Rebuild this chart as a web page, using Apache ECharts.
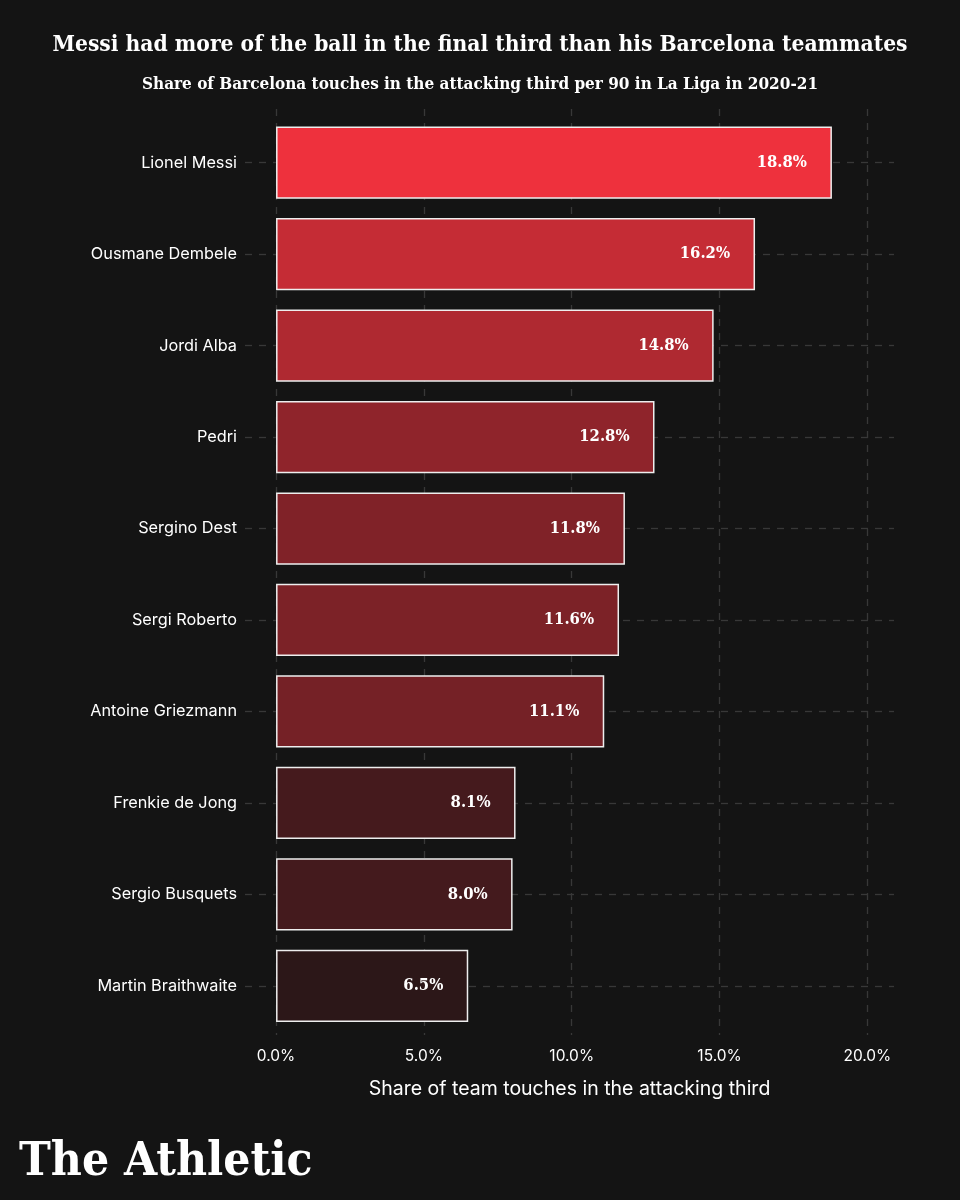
<!DOCTYPE html>
<html>
<head>
<meta charset="utf-8">
<script src="https://cdn.jsdelivr.net/npm/echarts@6/dist/echarts.min.js"></script>
<style>
  html, body { margin: 0; padding: 0; background: #141414; }
  #chart { width: 960px; height: 1200px; }
</style>
</head>
<body>
<div id="chart"></div>
<script>
// ---- data ----
const players = [
  'Lionel Messi', 'Ousmane Dembele', 'Jordi Alba', 'Pedri', 'Sergino Dest',
  'Sergi Roberto', 'Antoine Griezmann', 'Frenkie de Jong', 'Sergio Busquets', 'Martin Braithwaite'
];
const shares = [18.8, 16.2, 14.8, 12.8, 11.8, 11.6, 11.1, 8.1, 8.0, 6.5];
const xTicks = [0, 5, 10, 15, 20];

const titleText = 'Messi had more of the ball in the final third than his Barcelona teammates';
const subtitleText = 'Share of Barcelona touches in the attacking third per 90 in La Liga in 2020-21';
const xAxisName = 'Share of team touches in the attacking third';

// colour scale: dark -> bright red by value
const lowColor = [44, 23, 24];
const highColor = [238, 49, 61];
const vMin = Math.min(...shares), vMax = Math.max(...shares);
function colorFor(v) {
  const t = (v - vMin) / (vMax - vMin);
  const c = lowColor.map((lo, i) => Math.round(lo + t * (highColor[i] - lo)));
  return 'rgb(' + c.join(',') + ')';
}

const sansFont = 'Inter';
const slabFont = '"DejaVu Serif Condensed", "DejaVu Serif"';
const gridLineColor = '#383838';

const chart = echarts.init(document.getElementById('chart'), null, { renderer: 'canvas' });

const option = {
  backgroundColor: '#141414',
  animation: false,
  title: [
    {
      text: titleText,
      left: 'center', top: 29,
      textStyle: { color: '#ffffff', fontFamily: slabFont, fontWeight: 'bold', fontSize: 22.6 }
    },
    {
      text: subtitleText,
      left: 'center', top: 71,
      textStyle: { color: '#ffffff', fontFamily: slabFont, fontWeight: 'bold', fontSize: 17 }
    }
  ],
  grid: [
    { left: 245, right: 66, top: 117, bottom: 168.5 },
    { left: 245, right: 66, top: 109, bottom: 165 }
  ],
  xAxis: [
    { gridIndex: 0, type: 'value', min: -1.05, max: 20.9, show: false },
    {
      gridIndex: 1, type: 'value', min: -1.05, max: 20.9,
      axisLine: { show: false },
      axisTick: { show: false, customValues: xTicks },
      axisLabel: {
        customValues: xTicks,
        formatter: v => v.toFixed(1) + '%',
        color: '#ffffff', fontFamily: sansFont, fontSize: 15.5, margin: 13
      },
      splitLine: { show: true, lineStyle: { color: gridLineColor, type: [7, 7], width: 1.3 } },
      name: xAxisName,
      nameLocation: 'middle',
      nameGap: 44,
      nameTextStyle: { color: '#ffffff', fontFamily: sansFont, fontSize: 19.5 }
    }
  ],
  yAxis: [
    {
      gridIndex: 0, type: 'category', data: players, inverse: true,
      axisLine: { show: false, onZero: false },
      axisTick: {
        show: true, inside: true, alignWithLabel: true, length: 649,
        lineStyle: { color: gridLineColor, type: [7, 7], width: 1.3 }
      },
      axisLabel: { color: '#ffffff', fontFamily: sansFont, fontSize: 16.3, margin: 8 },
      splitLine: { show: false }
    },
    { gridIndex: 1, type: 'value', show: false, min: 0, max: 1 }
  ],
  series: [
    {
      type: 'bar',
      xAxisIndex: 0, yAxisIndex: 0,
      barWidth: '79%',
      data: shares.map(v => ({ value: v, itemStyle: { color: colorFor(v) } })),
      itemStyle: { borderColor: '#eeeeee', borderWidth: 1.5 },
      label: {
        show: true, position: 'insideRight', distance: 25,
        formatter: p => p.value.toFixed(1) + '%',
        color: '#ffffff', fontFamily: slabFont, fontWeight: 'bold', fontSize: 16.5
      },
      z: 3
    }
  ],
  graphic: [
    {
      type: 'text', left: 19, top: 1139,
      style: {
        text: 'The Athletic',
        fill: '#ffffff',
        font: 'bold 47.5px "DejaVu Serif Condensed", "DejaVu Serif"'
      }
    }
  ]
};

chart.setOption(option);
</script>
</body>
</html>
